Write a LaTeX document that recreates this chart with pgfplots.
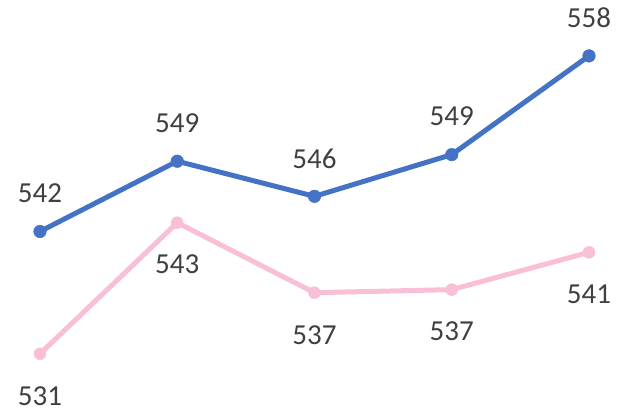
\documentclass[border=0pt]{standalone}
\usepackage{pgfplots}
\pgfplotsset{compat=1.18}
\usepackage{fontspec}
\setmainfont{Carlito}
\definecolor{cblue}{HTML}{4472C4}
\definecolor{cpink}{HTML}{F9BFD6}
\definecolor{ctext}{HTML}{404040}
\begin{document}
\begin{tikzpicture}
\begin{axis}[
  scale only axis, width=623pt, height=411pt,
  hide axis, clip=false,
  xmin=-0.2914, xmax=4.2477,
  ymin=525.64, ymax=563.09,
  point meta=explicit symbolic,
  nodes near coords,
  every node near coord/.append style={anchor=center, text=ctext, font=\fontsize{29}{34}\selectfont},
]
\addplot[cblue, line width=5pt, mark=*, mark size=6.3pt, mark options={line width=0.5pt},
  every node near coord/.append style={yshift=38pt}]
  coordinates {(0,542.0)[542] (1,548.4)[549] (2,545.2)[546] (3,549.0)[549] (4,558.0)[558]};
\addplot[cpink, line width=5pt, mark=*, mark size=6pt, mark options={line width=0.5pt},
  every node near coord/.append style={yshift=-42pt}]
  coordinates {(0,530.85)[531] (1,542.8)[543] (2,536.42)[537] (3,536.7)[537] (4,540.1)[541]};
\end{axis}
\pgfresetboundingbox
\useasboundingbox (current axis.south west) rectangle (current axis.north east);
\end{tikzpicture}
\end{document}
